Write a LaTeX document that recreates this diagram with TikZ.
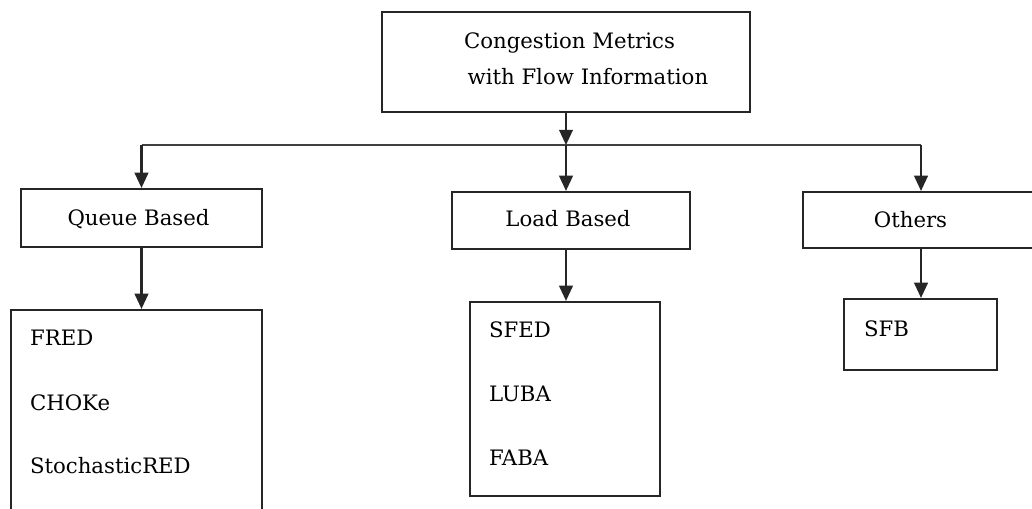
\documentclass[tikz,border=0pt]{standalone}
\usepackage{fontspec}
\setmainfont{DejaVu Serif}
\usepackage{tikz}
\usetikzlibrary{arrows.meta}
\tikzset{>={Triangle[length=3.8mm,width=3.4mm]}}

\begin{document}
\begin{tikzpicture}[x=0.025cm, y=-0.025cm, line width=1.5pt,
    box/.style={draw=black!85, minimum width=#1, inner sep=0pt},
    txt/.style={inner sep=0pt, font=\fontsize{15.1}{25.5}\selectfont}]
    \useasboundingbox(0, 0)rectangle(1032, 508);
    \clip(0, 0)rectangle(1032, 508);
    \fill[white](0, 0)rectangle(1032, 508);
    \node[box=9.2cm, minimum height=2.5cm] (top) at (566, 62) {};
    \node[box=6.025cm, minimum height=1.45cm] (qb) at (141.5, 218) {};
    \node[box=5.95cm, minimum height=1.425cm] (lb) at (571, 220.5) {};
    \node[box=5.9cm, minimum height=1.4cm] (ot) at (921, 220) {};
    \node[box=6.275cm, minimum height=5.5cm] (qlist) at (136.5, 420) {};
    \node[box=4.75cm, minimum height=4.85cm] (llist) at (565, 399) {};
    \node[box=3.825cm, minimum height=1.775cm] (olist) at (920.5, 334.5) {};
    \coordinate (hub) at (566, 145);
    \node[txt, anchor=base west, align=left] (title) at (463, 84) {Congestion Metrics\\\,with Flow Information};
    \node[txt, anchor=base] (qbtxt) at (138.5, 225) {Queue Based};
    \node[txt, anchor=base] (lbtxt) at (568, 226.7) {Load Based};
    \node[txt, anchor=base] (ottxt) at (910.5, 227) {Others};
    \node[txt, anchor=base west] (fred) at (29, 345.7) {FRED};
    \node[txt, anchor=base west] (choke) at (29, 410) {CHOKe};
    \node[txt, anchor=base west] (sred) at (29, 473) {StochasticRED};
    \node[txt, anchor=base west] (sfed) at (488, 337.7) {SFED};
    \node[txt, anchor=base west] (luba) at (488, 401.7) {LUBA};
    \node[txt, anchor=base west] (faba) at (488, 465) {FABA};
    \node[txt, anchor=base west] (sfb) at (863, 336) {SFB};
    \draw[->, black!85](top.south)--(hub);
    \draw[black!75](qb.north |- hub)--(ot.north |- hub);
    \draw[->, black!85](qb.north |- hub)--(qb.north);
    \draw[->, black!85](hub)--(hub |- lb.north);
    \draw[->, black!85](ot.north |- hub)--(ot.north);
    \draw[->, black!85](qb.south)--(qb.south |- qlist.north);
    \draw[->, black!85](hub |- lb.south)--(hub |- llist.north);
    \draw[->, black!85](ot.south)--(ot.south |- olist.north);
\end{tikzpicture}
\end{document}
